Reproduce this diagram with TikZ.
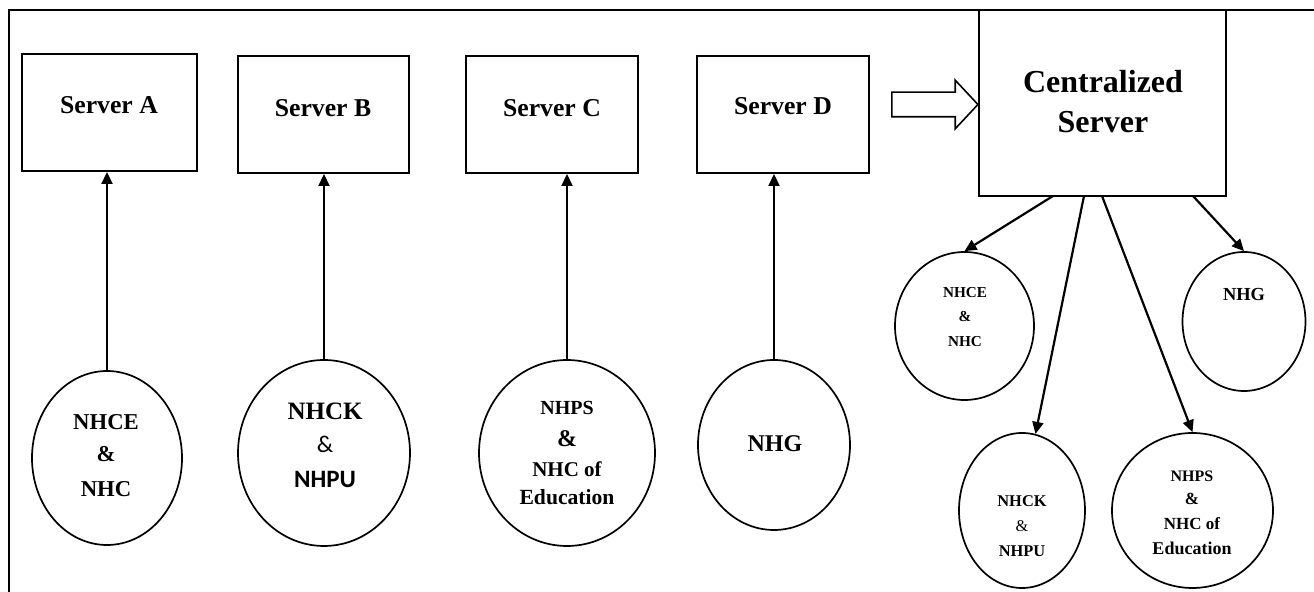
\documentclass[tikz,border=0pt]{standalone}
\usepackage{fontspec}
\setmainfont{Liberation Serif}
\newfontfamily\calib{Carlito}
\usetikzlibrary{arrows.meta,shapes.geometric,shapes.arrows}
\newcommand{\fsz}[1]{\fontsize{#1}{#1}\selectfont}
\begin{document}
\begin{tikzpicture}[x=0.5pt,y=-0.5pt,
  box/.style={draw,line width=1pt,rectangle,inner sep=0pt},
  oval/.style={draw,line width=0.85pt,ellipse,inner sep=0pt},
  arr/.style={line width=1.1pt,-{Triangle[length=6pt,width=5.5pt]}},
  txt/.style={anchor=base,inner sep=0pt,font=\bfseries},
  frame/.style={line width=1.1pt}]
\useasboundingbox (0,0) rectangle (1314,592);
% outer frame (partly cropped)
\coordinate (fb) at (9,600);
\coordinate (fc) at (9,10);
\coordinate (fr) at (1320,10);
\draw[frame] (fb) -- (fc) -- (fr);

% server boxes
\node[box,minimum width=87.5pt,minimum height=58.5pt] (sa) at (109.5,112.5) {};
\node[box,minimum width=85.5pt,minimum height=58.5pt] (sb) at (323.5,114.5) {};
\node[box,minimum width=86pt,minimum height=58.5pt] (sc) at (552,114.5) {};
\node[box,minimum width=86pt,minimum height=58.5pt] (sd) at (783,114.5) {};
\node[box,minimum width=123.5pt,minimum height=93pt] (cs) at (1102.5,103) {};

\node[txt,font=\bfseries\fsz{12.85}] (la) at (109,114) {Server A};
\node[txt,font=\bfseries\fsz{12.85}] (lb) at (323,117) {Server B};
\node[txt,font=\bfseries\fsz{12.85}] (lc) at (552,117) {Server C};
\node[txt,font=\bfseries\fsz{12.85}] (ld) at (783,115) {Server D};
\node[txt,font=\bfseries\fsz{16}] (lcs1) at (1103,93) {Centralized};
\node[txt,font=\bfseries\fsz{16}] (lcs2) at (1103,133) {Server};

% hollow arrow
\node[single arrow,draw,line width=0.8pt,inner xsep=0pt,inner ysep=5.75pt,
      minimum height=43pt,single arrow head extend=6pt,single arrow tip angle=94,
      anchor=east] (ha) at (979,104.5) {};

% bottom-row circles
\node[oval,minimum width=75pt,minimum height=87pt] (c1) at (107,458) {};
\node[oval,minimum width=86pt,minimum height=93pt] (c2) at (324,453) {};
\node[oval,minimum width=88pt,minimum height=93pt] (c3) at (567,453) {};
\node[oval,minimum width=76pt,minimum height=85pt] (c4) at (774,445) {};

\node[txt,font=\bfseries\fsz{11.35}] (c1a) at (106,430) {NHCE};
\node[txt,font=\bfseries\fsz{11.35}] (c1b) at (106,462) {\&};
\node[txt,font=\bfseries\fsz{11.35}] (c1c) at (106,497) {NHC};

\node[txt,font=\bfseries\fsz{12.5}] (c2a) at (325,420) {NHCK};
\node[txt,font=\calib\mdseries\fsz{12}] (c2b) at (325,453) {\&};
\node[txt,font=\calib\bfseries\fsz{12.5}] (c2c) at (325,488) {NHPU};

\node[txt,font=\bfseries\fsz{10}] (c3a) at (567,415) {NHPS};
\node[txt,font=\bfseries\fsz{12}] (c3b) at (567,447) {\&};
\node[txt,font=\bfseries\fsz{10.5}] (c3c) at (567,477) {NHC of};
\node[txt,font=\bfseries\fsz{10.8}] (c3d) at (567,505) {Education};

\node[txt,font=\bfseries\fsz{12}] (c4a) at (775,452) {NHG};

% right cluster circles
\node[oval,minimum width=69.5pt,minimum height=74pt] (r1) at (964.5,326) {};
\node[oval,minimum width=61.5pt,minimum height=69.5pt] (r2) at (1244,321.5) {};
\node[oval,minimum width=63pt,minimum height=77.5pt] (r3) at (1022,510.5) {};
\node[oval,minimum width=80.5pt,minimum height=77.5pt] (r4) at (1192.5,510.5) {};

\node[txt,font=\bfseries\fsz{7.6}] (r1a) at (965,298) {NHCE};
\node[txt,font=\bfseries\fsz{7.6}] (r1b) at (965,322) {\&};
\node[txt,font=\bfseries\fsz{7.6}] (r1c) at (965,347) {NHC};

\node[txt,font=\bfseries\fsz{9.2}] (r2a) at (1244,301) {NHG};

\node[txt,font=\bfseries\fsz{8.2}] (r3a) at (1022,507) {NHCK};
\node[txt,font=\mdseries\fsz{8.2}] (r3b) at (1022,532) {\&};
\node[txt,font=\bfseries\fsz{8.2}] (r3c) at (1022,557) {NHPU};

\node[txt,font=\bfseries\fsz{8}] (r4a) at (1192,482) {NHPS};
\node[txt,font=\bfseries\fsz{8.5}] (r4b) at (1192,505) {\&};
\node[txt,font=\bfseries\fsz{8.5}] (r4c) at (1192,530) {NHC of};
\node[txt,font=\bfseries\fsz{9}] (r4d) at (1192,555) {Education};

% vertical arrows
\draw[arr] (c1.north) -- (c1.north |- sa.south);
\draw[arr] (c2.north) -- (c2.north |- sb.south);
\draw[arr] (c3.north) -- (c3.north |- sc.south);
\draw[arr] (c4.north) -- (c4.north |- sd.south);

% centralized server fan-out
\coordinate (o1) at (1053,196);
\coordinate (o2) at (1084,196);
\coordinate (o3) at (1102,196);
\coordinate (o4) at (1193,196);
\draw[arr] (o1) -- (r1.north);
\draw[arr] (o2) -- (r3.80);
\draw[arr] (o3) -- (r4.north);
\draw[arr] (o4) -- (r2.north);
\end{tikzpicture}
\end{document}
